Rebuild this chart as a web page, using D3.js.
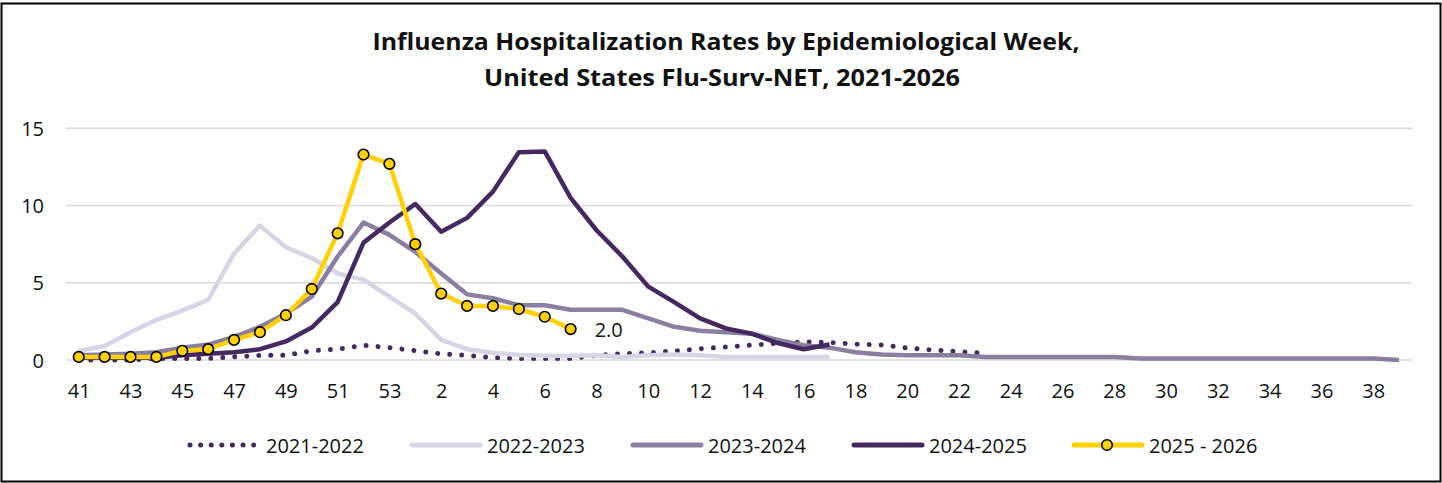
<!DOCTYPE html>
<html>
<head>
<meta charset="utf-8">
<script src="https://cdn.jsdelivr.net/npm/d3@7"></script>
<style>
html,body{margin:0;padding:0;background:#fff;}
svg{display:block;}
</style>
</head>
<body>
<svg id="chart" width="1442" height="483"></svg>
<script>
// ---- data ----
const weeks = [41,42,43,44,45,46,47,48,49,50,51,52,53,
  1,2,3,4,5,6,7,8,9,10,11,12,13,14,15,16,17,18,19,20,21,22,23,24,25,26,27,28,29,30,31,32,33,34,35,36,37,38,39];
const tickLabels = weeks.filter((w,i)=>i%2===0);
const yTicks = [0,5,10,15];
const seriesNames = ["2021-2022","2022-2023","2023-2024","2024-2025","2025 - 2026"];
const s2021 = [0.0,0.0,0.0,0.1,0.1,0.1,0.2,0.3,0.3,0.6,0.7,0.95,0.8,
  0.6,0.4,0.3,0.15,0.1,0.1,0.1,0.3,0.4,0.47,0.58,0.73,0.84,0.97,1.08,1.18,1.14,1.03,0.97,0.78,0.65,0.54,0.43];
const s2022 = [0.6,0.9,1.8,2.6,3.2,3.9,6.9,8.7,7.3,6.6,5.6,5.2,4.1,
  3.0,1.3,0.7,0.47,0.32,0.27,0.27,0.3,0.2,0.3,0.35,0.3,0.2,0.2,0.2,0.2,0.2];
const s2023 = [0.3,0.35,0.4,0.5,0.8,1.0,1.5,2.15,3.0,4.1,6.7,8.9,8.1,
  7.0,5.6,4.25,4.0,3.55,3.55,3.25,3.25,3.25,2.7,2.15,1.9,1.8,1.7,1.3,0.95,0.8,0.5,0.35,0.3,0.3,0.3,
  0.2,0.2,0.2,0.2,0.2,0.2,0.1,0.1,0.1,0.1,0.1,0.1,0.1,0.1,0.1,0.1,0.0];
const s2024 = [0.15,0.15,0.15,0.15,0.3,0.4,0.5,0.7,1.2,2.1,3.75,7.6,8.9,
  10.1,8.3,9.2,10.9,13.45,13.5,10.5,8.4,6.7,4.75,3.75,2.7,2.05,1.7,1.1,0.7,1.0];
const s2025 = [0.2,0.2,0.2,0.2,0.6,0.7,1.3,1.8,2.9,4.6,8.2,13.3,12.7,
  7.5,4.3,3.5,3.5,3.3,2.8,2.0];
const lastLabel = "2.0";
const titleLines = ["Influenza Hospitalization Rates by Epidemiological Week,",
                    "United States Flu-Surv-NET, 2021-2026"];

// ---- styles ----
const colors = ["#44295f","#d5d5e4","#8b7fa1","#44295f","#ffd100"];
const FONT = "'Open Sans', sans-serif";

const svg = d3.select("#chart");
svg.append("rect").attr("x",0).attr("y",0).attr("width",1442).attr("height",483).attr("fill","#fff");
svg.append("rect").attr("x",1.5).attr("y",3.5).attr("width",1439).attr("height",478)
   .attr("fill","none").attr("stroke","#000").attr("stroke-width",2);

const x = d3.scalePoint().domain(weeks.map(String)).range([65.8,1412]).padding(0.5);
const y = d3.scaleLinear().domain([0,15]).range([360,128.3]);

// gridlines
svg.append("g").selectAll("line").data(yTicks).join("line")
  .attr("x1",65.8).attr("x2",1412)
  .attr("y1",d=>y(d)).attr("y2",d=>y(d))
  .attr("stroke","#d9d9d9").attr("stroke-width",1.5);

// y axis
const yAxis = svg.append("g").attr("transform","translate(44,0)")
  .call(d3.axisLeft(y).tickValues(yTicks).tickSize(0).tickPadding(0));
yAxis.select(".domain").remove();
yAxis.selectAll("text").attr("font-family",FONT).attr("font-size",20).attr("fill","#111")
  .attr("dy","0.36em");

// x axis
const xAxis = svg.append("g").attr("transform","translate(0,360)")
  .call(d3.axisBottom(x).tickValues(tickLabels.map(String)).tickSize(0).tickPadding(0));
xAxis.select(".domain").remove();
xAxis.selectAll("text").attr("font-family",FONT).attr("font-size",20).attr("fill","#111")
  .attr("dy",null).attr("y",38);

function mkLine(){
  return d3.line().x((d,i)=>x(String(weeks[i]))).y(d=>y(d));
}
const allSeries = [s2021,s2022,s2023,s2024,s2025];
const lines = svg.append("g");
allSeries.forEach((s,k)=>{
  const p = lines.append("path").datum(s).attr("d",mkLine())
    .attr("fill","none").attr("stroke",colors[k])
    .attr("stroke-linejoin","round");
  if(k===0){
    p.attr("stroke-width",5).attr("stroke-dasharray","0.01 12").attr("stroke-linecap","round");
  } else {
    p.attr("stroke-width",4.5).attr("stroke-linecap", k===4 ? "round" : "butt");
  }
});

// markers for 2025-2026
svg.append("g").selectAll("circle").data(s2025).join("circle")
  .attr("cx",(d,i)=>x(String(weeks[i]))).attr("cy",d=>y(d)).attr("r",5.3)
  .attr("fill","#ffd100").attr("stroke","#000").attr("stroke-width",1.6);

// last label
const li = s2025.length-1;
svg.append("text").attr("x",x(String(weeks[li]))+24).attr("y",y(s2025[li])+8)
  .attr("font-family",FONT).attr("font-size",20).attr("fill","#111").text(lastLabel);

// title
svg.append("text").attr("x",726).attr("y",50).attr("text-anchor","middle")
  .attr("font-family",FONT).attr("font-weight","bold").attr("font-size",23).attr("fill","#111")
  .attr("textLength",707).attr("lengthAdjust","spacingAndGlyphs").text(titleLines[0]);
svg.append("text").attr("x",722).attr("y",86).attr("text-anchor","middle")
  .attr("font-family",FONT).attr("font-weight","bold").attr("font-size",23).attr("fill","#111")
  .attr("textLength",476).attr("lengthAdjust","spacingAndGlyphs").text(titleLines[1]);

// legend
const legX = [189,410,631,852,1072];
const leg = svg.append("g");
seriesNames.forEach((n,k)=>{
  const g = leg.append("g").attr("transform",`translate(${legX[k]},445)`);
  if(k===0){
    g.append("line").attr("x1",1).attr("x2",66).attr("y1",0).attr("y2",0)
      .attr("stroke",colors[0]).attr("stroke-width",5)
      .attr("stroke-dasharray","0.01 10.6").attr("stroke-linecap","round");
  } else {
    g.append("line").attr("x1",2).attr("x2",70).attr("y1",0).attr("y2",0)
      .attr("stroke",colors[k]).attr("stroke-width",5).attr("stroke-linecap","round");
    if(k===4){
      g.append("circle").attr("cx",35).attr("cy",0).attr("r",5.3)
        .attr("fill","#ffd100").attr("stroke","#000").attr("stroke-width",1.6);
    }
  }
  g.append("text").attr("x",77).attr("y",8.3)
    .attr("font-family",FONT).attr("font-size",20).attr("fill","#111").text(n);
});
</script>
</body>
</html>
